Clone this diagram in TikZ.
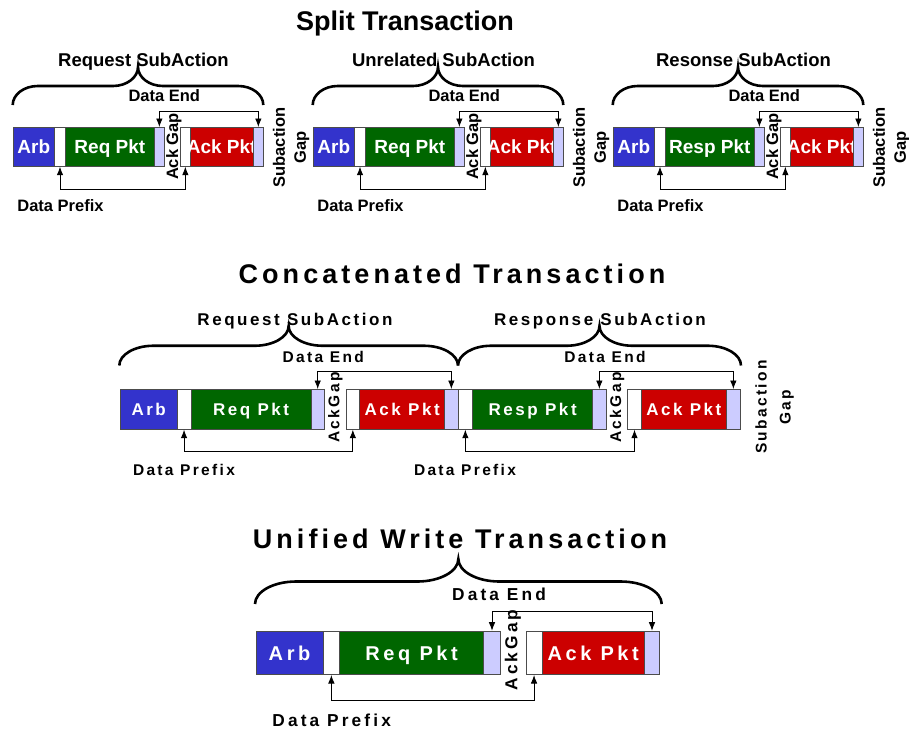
\documentclass[tikz,border=0pt]{standalone}
\usepackage{fontspec}
\setmainfont{Liberation Sans}
\newfontfamily\widefont{Liberation Sans}[LetterSpace=15]
\newfontfamily\widerfont{Liberation Sans}[LetterSpace=18]
\usetikzlibrary{arrows.meta}
\definecolor{arbblue}{HTML}{3333CC}
\definecolor{pktgreen}{HTML}{006600}
\definecolor{ackred}{HTML}{CC0000}
\definecolor{endlav}{HTML}{CCCCFF}
\newcommand{\subbrace}[5]{%
  \pgfmathsetmacro\bm{(#1+#2)/2}
  \pgfmathsetmacro\bh{(#3+#4)/2}
  \pgfmathsetmacro\bk{0.55*(#4-#3)/2}
  \pgfmathsetmacro\bw{0.45*#5}
  \draw[bracepen] (#1,#4) .. controls (#1,#4-\bk) and (#1+\bw,\bh) .. (#1+#5,\bh)
    -- (\bm-#5,\bh) .. controls (\bm-\bw,\bh) and (\bm,#3+\bk) .. (\bm,#3)
    .. controls (\bm,#3+\bk) and (\bm+\bw,\bh) .. (\bm+#5,\bh)
    -- (#2-#5,\bh) .. controls (#2-\bw,\bh) and (#2,#4-\bk) .. (#2,#4);
}
\begin{document}
\begin{tikzpicture}[x=1pt,y=-1pt,
	pkt/.style={draw=black!70,line width=0.7pt,inner sep=0pt,anchor=north west,text=white},
	arbbox/.style={pkt,fill=arbblue},
	gapbox/.style={pkt,fill=white},
	reqbox/.style={pkt,fill=pktgreen},
	endbox/.style={pkt,fill=endlav},
	ackbox/.style={pkt,fill=ackred},
	toprow/.style={minimum height=39pt},
	midrow/.style={minimum height=40pt},
	lowrow/.style={minimum height=43.6pt},
	conn/.style={line width=0.8pt,{Latex[length=8.5pt,width=6.5pt]}-{Latex[length=8.5pt,width=6.5pt]}},
	bracepen/.style={line width=2.6pt},
	toptext/.style={font=\fontsize{19}{21}\selectfont\bfseries,text height=13.6pt,text depth=0pt},
	topnote/.style={font=\fontsize{16.5}{21}\selectfont\bfseries,inner sep=0pt},
	midtext/.style={font=\widefont\fontsize{17}{20}\selectfont\bfseries,text height=12.2pt,text depth=0pt},
	midnote/.style={font=\widefont\fontsize{15.5}{24}\selectfont\bfseries,inner sep=0pt},
	lowtext/.style={font=\widerfont\fontsize{20}{22}\selectfont\bfseries,text height=14.3pt,text depth=0pt},
	lownote/.style={font=\widerfont\fontsize{17.3}{20}\selectfont\bfseries,inner sep=0pt},
	heading/.style={anchor=base,inner sep=0pt}]
	
	\useasboundingbox (0,0) rectangle (909,729);
	
	\node[heading,font=\fontsize{27}{30}\selectfont\bfseries] (splittitle) at (405,30.5) {Split Transaction};
	
	\foreach \dx/\pk/\sub/\k in {0/Req Pkt/Request SubAction/a,300/Req Pkt/Unrelated SubAction/b,600/Resp Pkt/Resonse SubAction/c}{
		\node[arbbox,toprow,toptext,minimum width=41.6pt] (arb\k) at (\dx+12.7,127) {Arb};
		\node[gapbox,toprow,minimum width=10.7pt] (pre\k) at (\dx+54.3,127) {};
		\node[reqbox,toprow,toptext,minimum width=89pt] (pkt\k) at (\dx+65,127) {\pk};
		\node[endbox,toprow,minimum width=10pt] (end\k) at (\dx+154,127) {};
		\node[gapbox,toprow,minimum width=10pt] (ackw\k) at (\dx+180,127) {};
		\node[ackbox,toprow,toptext,minimum width=62.7pt] (ack\k) at (\dx+190,127) {\makebox[0pt]{Ack Pkt}};
		\node[endbox,toprow,minimum width=10.6pt] (ackl\k) at (\dx+252.7,127) {};
		
		\subbrace{\dx+12.7}{\dx+263.3}{67}{105}{25}
		\node[heading,font=\fontsize{18.5}{20}\selectfont\bfseries] (sub\k) at (\dx+143.5,66.7) {\sub};
		\node[topnote,anchor=base] (dend\k) at (\dx+164.3,101.7) {Data End};
		\node[topnote,anchor=base] (dpre\k) at (\dx+60.5,211) {Data Prefix};
		\node[topnote,anchor=base,rotate=90] (gap\k) at (\dx+178.2,146.5) {Ack Gap};
		\node[topnote,rotate=90,align=center] (subgap\k) at (\dx+291,147.5) {Subaction\\Gap};
		
		\draw[conn] (end\k.north) -- ++(0,-16) -| (ackl\k.north);
		\draw[conn] (pre\k.south) -- ++(0,22.3) -| (ackw\k.south);
	}
	
	\node[heading,font=\widefont\fontsize{27}{30}\selectfont\bfseries] (concattitle) at (452,283.3) {Concatenated Transaction};
	
	\node[arbbox,midrow,midtext,minimum width=56.7pt] (arbm) at (120,389) {Arb};
	\node[gapbox,midrow,minimum width=14pt] (prem) at (176.7,389) {};
	\node[reqbox,midrow,midtext,minimum width=120pt] (reqm) at (190.7,389) {Req Pkt};
	\node[endbox,midrow,minimum width=13.3pt] (endm) at (310.7,389) {};
	\node[gapbox,midrow,minimum width=13.6pt] (ackwm) at (345.7,389) {};
	\node[ackbox,midrow,midtext,minimum width=85pt] (ackm) at (359.3,389) {Ack Pkt};
	\node[endbox,midrow,minimum width=13.4pt] (acklm) at (444.3,389) {};
	\node[gapbox,midrow,minimum width=14.6pt] (prer) at (457.7,389) {};
	\node[reqbox,midrow,midtext,minimum width=120pt] (respr) at (472.3,389) {Resp Pkt};
	\node[endbox,midrow,minimum width=13.4pt] (endr) at (592.3,389) {};
	\node[gapbox,midrow,minimum width=13.7pt] (ackwr) at (627.3,389) {};
	\node[ackbox,midrow,midtext,minimum width=85pt] (ackr) at (641,389) {Ack Pkt};
	\node[endbox,midrow,minimum width=14pt] (acklr) at (726,389) {};
	
	\subbrace{119.3}{458}{326}{365.5}{34}
	\subbrace{458}{741}{326}{365.5}{33}
	\node[heading,midnote,font=\widefont\fontsize{17}{20}\selectfont\bfseries] (reqsub) at (295,325) {Request SubAction};
	\node[heading,midnote,font=\widefont\fontsize{17}{20}\selectfont\bfseries] (respsub) at (600,325) {Response SubAction};
	\node[midnote,anchor=base] (dendm) at (323.3,362.7) {Data End};
	\node[midnote,anchor=base] (dendr) at (605,362.7) {Data End};
	\node[midnote,anchor=base] (dprem) at (184,475) {Data Prefix};
	\node[midnote,anchor=base] (dprer) at (465,475) {Data Prefix};
	\node[midnote,anchor=base,rotate=90] (gapm) at (339.4,407.5) {AckGap};
	\node[midnote,anchor=base,rotate=90] (gapr) at (621,407.5) {AckGap};
	\node[midnote,rotate=90,align=center] (subgapr) at (774.7,407) {Subaction\\Gap};
	
	\draw[conn] (endm.north) -- ++(0,-18) -| (acklm.north);
	\draw[conn] (endr.north) -- ++(0,-18) -| (acklr.north);
	\draw[conn] (prem.south) -- ++(0,22) -| (ackwm.south);
	\draw[conn] (prer.south) -- ++(0,22) -| (ackwr.south);
	
	\node[heading,font=\widefont\fontsize{27}{30}\selectfont\bfseries] (unifiedtitle) at (460,548.3) {Unified Write Transaction};
	
	\node[arbbox,lowrow,lowtext,minimum width=67pt] (arbu) at (255.7,630.7) {Arb};
	\node[gapbox,lowrow,minimum width=16.6pt] (preu) at (322.7,630.7) {};
	\node[reqbox,lowrow,lowtext,minimum width=144pt] (requ) at (339.3,630.7) {Req Pkt};
	\node[endbox,lowrow,minimum width=16.7pt] (endu) at (483.3,630.7) {};
	\node[gapbox,lowrow,minimum width=16pt] (ackwu) at (525.7,630.7) {};
	\node[ackbox,lowrow,lowtext,minimum width=102.3pt] (acku) at (541.7,630.7) {Ack Pkt};
	\node[endbox,lowrow,minimum width=15.3pt] (acklu) at (644,630.7) {};
	
	\subbrace{255}{661.7}{559}{604}{41}
	\node[lownote,anchor=base] (dendu) at (499,600.7) {Data End};
	\node[lownote,anchor=base] (dpreu) at (331.7,726.7) {Data Prefix};
	\node[lownote,anchor=base,rotate=90] (gapu) at (517.4,650) {AckGap};
	
	\draw[conn] (endu.north) -- ++(0,-19) -| (acklu.north);
	\draw[conn] (preu.south) -- ++(0,25.7) -| (ackwu.south);
	
\end{tikzpicture}
\end{document}
